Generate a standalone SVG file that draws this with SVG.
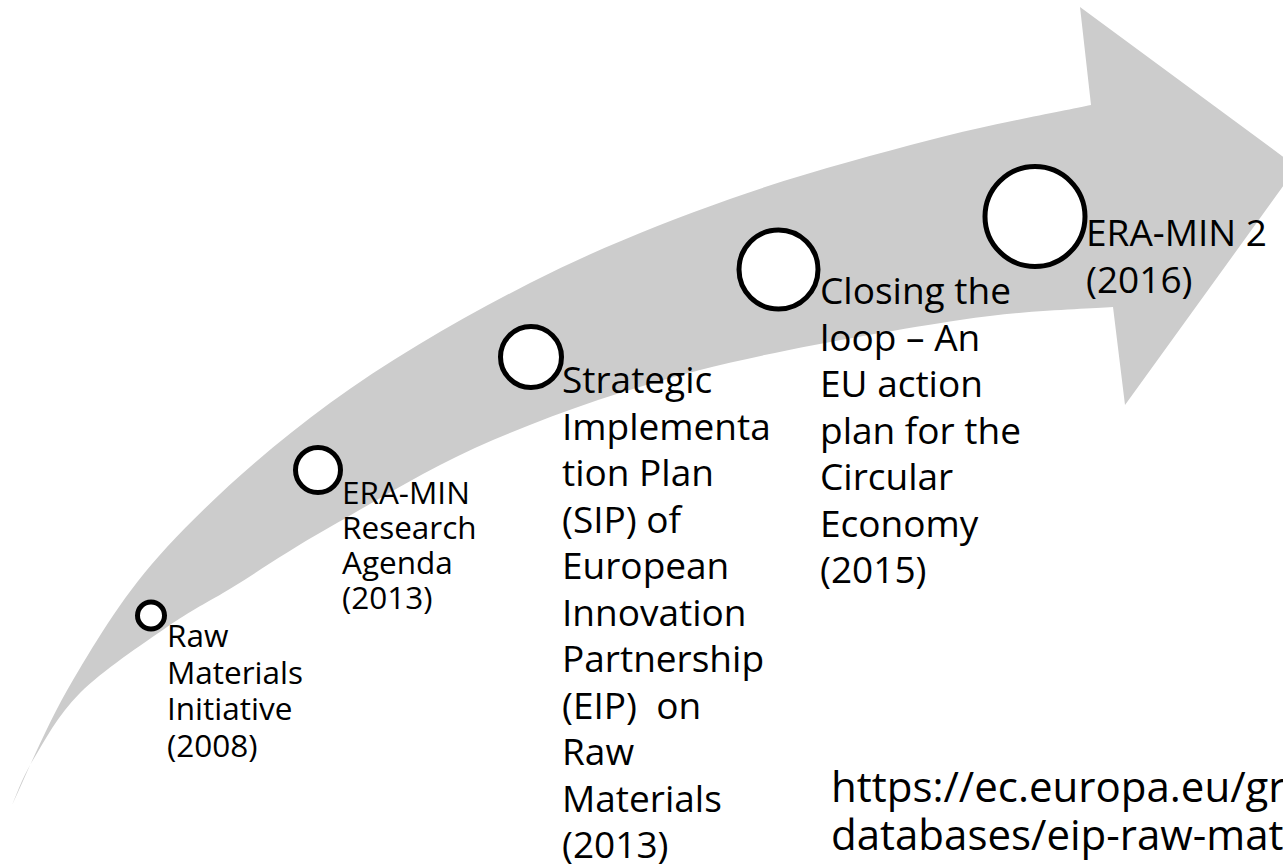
<svg xmlns="http://www.w3.org/2000/svg" width="1283" height="867" viewBox="0 0 1283 867">
<style>
.arrow{fill:#cccccc;stroke:none}
.dot{fill:#ffffff;stroke:#000000;stroke-width:5}
.lbl{font-family:"Open Sans","Noto Sans","Liberation Sans",sans-serif;fill:#000000}
.sm{font-size:31.5px}
.lg{font-size:37px}
.url{font-size:42px}
</style>
<rect width="1283" height="867" fill="#ffffff"/>
<g id="connectors">
<path class="arrow" d="M12,805 C22.2,784.2 47.2,723 73,680 C98.8,637 124.2,593.2 167,547 C209.8,500.8 269.5,447 330,403 C390.5,359 463.3,317 530,283 C596.7,249 663.3,222.8 730,199 C796.7,175.2 869.8,155.7 930,140 C990.2,124.3 1064.2,110.8 1091,105 L1080,7 L1297,167 L1125,405 L1113,307 C1087.5,309.2 1028.8,309.5 960,320 C891.2,330.5 777.8,350 700,370 C622.2,390 554.7,413.8 493,440 C431.3,466.2 373.3,502.5 330,527 C286.7,551.5 260.2,570.3 233,587 C205.8,603.7 192.5,609.3 167,627 C141.5,644.7 102.3,670.8 80,693 C57.7,715.2 44.3,741.3 33,760 C21.7,778.7 15.5,797.5 12,805 Z"/>
</g>
<g id="node1">
<circle class="dot" cx="151" cy="615.5" r="13.5"/>
<text class="lbl sm" x="167" y="647"><tspan x="167">Raw</tspan><tspan x="167" dy="36.5">Materials</tspan><tspan x="167" dy="36.5">Initiative</tspan><tspan x="167" dy="36.5">(2008)</tspan></text>
</g>
<g id="node2">
<circle class="dot" cx="318" cy="470" r="22.5"/>
<text class="lbl sm" x="342" y="504"><tspan x="342">ERA-MIN</tspan><tspan x="342" dy="35">Research</tspan><tspan x="342" dy="35">Agenda</tspan><tspan x="342" dy="35">(2013)</tspan></text>
</g>
<g id="node3">
<circle class="dot" cx="531" cy="357" r="30.5"/>
<text class="lbl lg" x="562" y="393"><tspan x="562">Strategic</tspan><tspan x="562" dy="46.5">Implementa</tspan><tspan x="562" dy="46.5">tion Plan</tspan><tspan x="562" dy="46.5">(SIP) of</tspan><tspan x="562" dy="46.5">European</tspan><tspan x="562" dy="46.5">Innovation</tspan><tspan x="562" dy="46.5">Partnership</tspan><tspan x="562" dy="46.5" xml:space="preserve">(EIP)  on</tspan><tspan x="562" dy="46.5">Raw</tspan><tspan x="562" dy="46.5">Materials</tspan><tspan x="562" dy="46.5">(2013)</tspan></text>
</g>
<g id="node4">
<circle class="dot" cx="778.5" cy="269.5" r="39.5"/>
<text class="lbl lg" x="820" y="304"><tspan x="820">Closing the</tspan><tspan x="820" dy="46.5">loop – An</tspan><tspan x="820" dy="46.5">EU action</tspan><tspan x="820" dy="46.5">plan for the</tspan><tspan x="820" dy="46.5">Circular</tspan><tspan x="820" dy="46.5">Economy</tspan><tspan x="820" dy="46.5">(2015)</tspan></text>
</g>
<g id="node5">
<circle class="dot" cx="1035" cy="216.5" r="50"/>
<text class="lbl lg" x="1086" y="246"><tspan x="1086">ERA-MIN 2</tspan><tspan x="1086" dy="47">(2016)</tspan></text>
</g>
<g id="source">
<text class="lbl url" x="831" y="802"><tspan x="831">https://ec.europa.eu/gr</tspan><tspan x="831" dy="48">databases/eip-raw-mat</tspan></text>
</g>
</svg>
